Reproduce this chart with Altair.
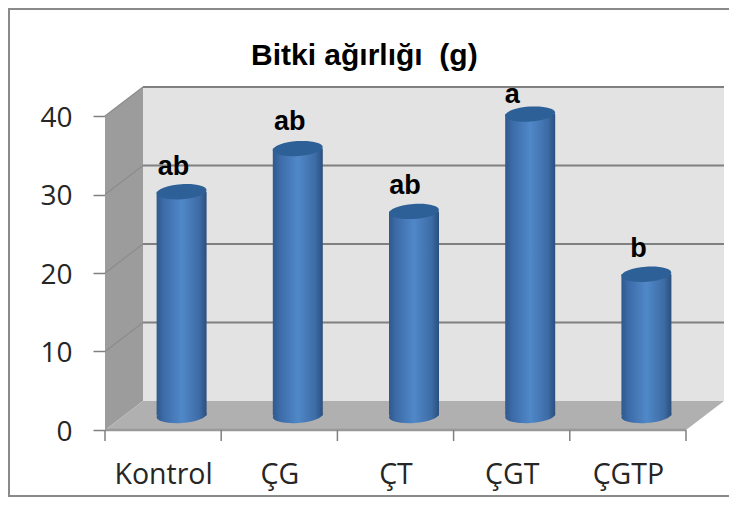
import altair as alt
import pandas as pd

categories = ["Kontrol", "ÇG", "ÇT", "ÇGT", "ÇGTP"]
values = [28.5, 34.0, 26.0, 38.4, 18.0]
letters = ["ab", "ab", "ab", "a", "b"]
y_ticks = [0, 10, 20, 30, 40]
grid_levels = [10, 20, 30, 40]

# geometry of the fake 3-D box, in axis units
PX_X = 116.2   # px per category
PX_Y = 7.85    # px per value unit
DX = 38 / PX_X
DY = 29 / PX_Y
W, H = 721, 489
DOM_X = [(8 - 105) / PX_X, (8 + W - 105) / PX_X]
DOM_Y = [(430 - 8 - H) / PX_Y, (430 - 8) / PX_Y]
FONT = "Open Sans"

xs = alt.Scale(domain=DOM_X, nice=False, zero=False, padding=0)
ys = alt.Scale(domain=DOM_Y, nice=False, zero=False, padding=0)

bars = pd.DataFrame({
    "cat": categories,
    "pos": [i + 0.5 for i in range(len(categories))],
    "value": values,
    "zero": [0] * len(values),
    "letter": letters,
})
lab_dx = [-8, -8, -9, -18, -8]
lab_dy = [25, 27, 25, 19, 25]
bars["lx"] = [p + d / PX_X for p, d in zip(bars["pos"], lab_dx)]
bars["ly"] = [v + d / PX_Y for v, d in zip(values, lab_dy)]

n = len(categories)
back = pd.DataFrame({"x": [DX, n + DX], "y": [40 + DY, 40 + DY], "y2": [DY, DY]})
left = pd.DataFrame({"x": [0, DX], "y": [40, 40 + DY], "y2": [0, DY]})
floor = pd.DataFrame({"x": [0, DX, n, n + DX], "y": [0, DY, DY, DY], "y2": [0, 0, 0, DY]})
grid = pd.DataFrame({"x": [DX] * 4, "x2": [n + DX] * 4,
                     "y": [g + DY for g in grid_levels]})
side = pd.DataFrame({"x": [0] * 4, "x2": [DX] * 4, "y": grid_levels,
                     "y2": [g + DY for g in grid_levels]})
ticks = pd.DataFrame({"x": list(range(n + 1)), "y": [0] * (n + 1),
                      "y2": [-11 / PX_Y] * (n + 1)})
front = pd.DataFrame({"x": [0], "x2": [n], "y": [0]})

fx = DOM_X[0] + 1 / PX_X
frame_v = pd.DataFrame({"x": [fx], "y": [DOM_Y[0]], "y2": [DOM_Y[1]]})
frame_h = pd.DataFrame({"x": [fx, fx], "x2": [DOM_X[1], DOM_X[1]],
                        "y": [DOM_Y[0] + 1 / PX_Y, DOM_Y[1] - 1 / PX_Y]})

X = alt.X("x:Q", scale=xs, axis=None)
Y = alt.Y("y:Q", scale=ys, axis=None)

axes = alt.Chart(bars).mark_point(opacity=0).encode(
    x=alt.X("pos:Q", scale=xs, title=None, axis=alt.Axis(
        values=[0.5, 1.5, 2.5, 3.5, 4.5], offset=-(8 + H - 430), domain=False, ticks=False, grid=False,
        labelExpr="['Kontrol','ÇG','ÇT','ÇGT','ÇGTP'][datum.value-0.5]",
        labelFont=FONT, labelFontSize=28.5, labelColor="#262626", labelPadding=30,
        labelOverlap=False, labelFlush=False)),
    y=alt.Y("value:Q", scale=ys, title=None, axis=alt.Axis(
        values=y_ticks, offset=-97, domain=False, grid=False, tickSize=12, tickColor="#808080",
        tickWidth=1.5, labelFont=FONT, labelFontSize=28, labelColor="#262626", labelPadding=21,
        labelOffset=2)),
)


def wall(df, color):
    return alt.Chart(df).mark_area(color=color, opacity=1).encode(x=X, y=Y, y2="y2:Q")


def hline(df, color, w):
    return alt.Chart(df).mark_rule(color=color, strokeWidth=w).encode(x=X, x2="x2:Q", y=Y)


side_lines = alt.Chart(side).mark_rule(color="#8c8c8c", strokeWidth=1.2).encode(
    x=X, x2="x2:Q", y=Y, y2="y2:Q")
tick_rules = alt.Chart(ticks).mark_rule(color="#808080", strokeWidth=1.5).encode(x=X, y=Y, y2="y2:Q")
frame_left = alt.Chart(frame_v).mark_rule(color="#8a8a8a", strokeWidth=2).encode(x=X, y=Y, y2="y2:Q")

body_grad = alt.Gradient(gradient="linear", x1=0, x2=1, y1=0, y2=0, stops=[
    alt.GradientStop(offset=0, color="#30598c"),
    alt.GradientStop(offset=0.14, color="#3c6ba8"),
    alt.GradientStop(offset=0.5, color="#5088c8"),
    alt.GradientStop(offset=0.85, color="#3d6ca6"),
    alt.GradientStop(offset=1, color="#2b4f7d"),
])
ELL = "M-1,0A1,0.3 0 1,1 1,0A1,0.3 0 1,1 -1,0Z"
BAR_OFF = dict(xOffset=18.5, yOffset=-14.5)

bottom = alt.Chart(bars).mark_point(shape=ELL, filled=True, size=2500, angle=356, opacity=1,
                                    fill=body_grad, strokeWidth=0, **BAR_OFF).encode(
    x=alt.X("pos:Q", scale=xs, axis=None), y=alt.Y("zero:Q", scale=ys, axis=None))
body = alt.Chart(bars).mark_bar(size=50, orient="vertical", fill=body_grad, y2Offset=-14.5, **BAR_OFF).encode(
    x=alt.X("pos:Q", scale=xs, axis=None),
    y=alt.Y("value:Q", scale=ys, axis=None), y2="zero:Q")
top = alt.Chart(bars).mark_point(shape=ELL, filled=True, size=2500, angle=356, opacity=1,
                                 fill="#2c6096", strokeWidth=0, **BAR_OFF).encode(
    x=alt.X("pos:Q", scale=xs, axis=None), y=alt.Y("value:Q", scale=ys, axis=None))
labels = alt.Chart(bars).mark_text(font="Liberation Sans", fontWeight="bold", fontSize=27,
                                   color="#000000", baseline="middle", xOffset=18.5,
                                   yOffset=-14.5).encode(
    x=alt.X("lx:Q", scale=xs, axis=None), y=alt.Y("ly:Q", scale=ys, axis=None), text="letter:N")

chart = alt.layer(
    frame_left, hline(frame_h, "#8a8a8a", 2),
    wall(back, "#e3e3e3"), wall(left, "#9c9c9c"), wall(floor, "#b0b0b0"),
    hline(grid, "#808080", 2), side_lines,
    alt.Chart(back.head(2)).mark_line(color="#808080", strokeWidth=2).encode(x=X, y=Y),
    hline(front, "#999999", 2.5), tick_rules,
    bottom, body, top, labels, axes,
).resolve_axis(x="independent", y="independent").properties(
    width=W, height=H, padding=0,
    autosize=alt.AutoSizeParams(type="none"),
    title=alt.TitleParams("Bitki ağırlığı \u00a0(g)", font="Liberation Sans", fontWeight="bold",
                          fontSize=30, color="#000000", anchor="start", dx=243, dy=64, offset=0),
).configure_view(stroke=None)

chart.save("out.html", embed_options={"renderer": "svg", "actions": False})
